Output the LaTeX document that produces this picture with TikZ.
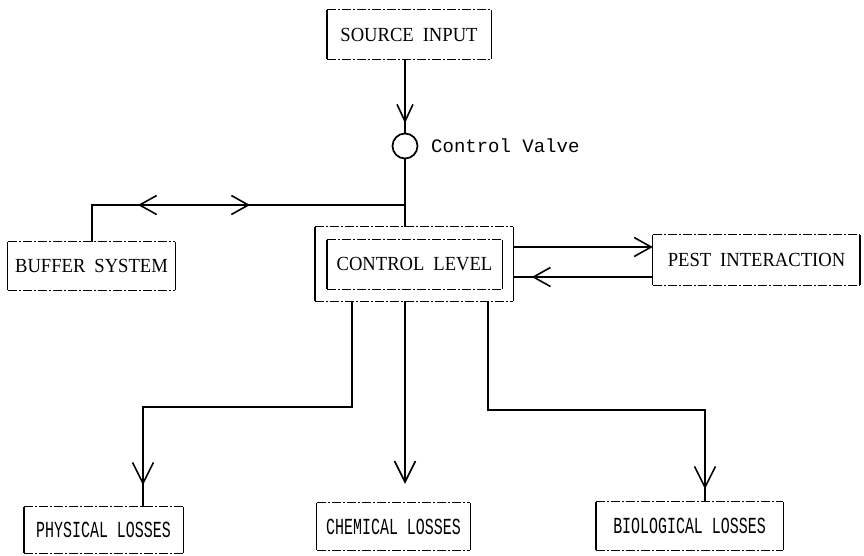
\documentclass[tikz,border=0pt]{standalone}
\usepackage{fontspec}
\setmainfont{Liberation Serif}[FakeStretch=0.93]
\newfontfamily\monolab[FakeStretch=0.65]{Liberation Mono}
\newfontfamily\valvefont{Liberation Mono}
\usetikzlibrary{arrows.meta,decorations.markings}
\tikzset{
  x=1pt,y=-1pt,
  vbarb/.tip={Straight Barb[length=21pt,width=21pt,line width=1.6pt]},
  sbarb/.tip={Straight Barb[length=17pt,width=16pt,line width=1.6pt]},
  hbarb/.tip={Straight Barb[length=17pt,width=19pt,line width=1.6pt]},
  lbl/.style={inner sep=0pt,font=\fontsize{20pt}{23pt}\selectfont},
  lossl/.style={inner sep=0pt,font=\monolab\fontsize{23pt}{26pt}\selectfont},
  conn/.style={line width=1.7pt,black},
  barbat/.style 2 args={postaction={decorate,decoration={markings,mark=at position #1 with {\arrow{#2}}}}},
  barbback/.style 2 args={postaction={decorate,decoration={markings,mark=at position #1 with {\arrowreversed{#2}}}}},
  dashline/.style={line width=1pt,dash pattern=on 9pt off 2pt on 2pt off 2pt},
  sideline/.style={line width=#1},
}
\newcommand{\tbox}[3]{%
  \draw[dashline] (#1.north west) -- (#1.north east) (#1.south west) -- (#1.south east);
  \draw[sideline=#2] (#1.north west) -- (#1.south west);
  \draw[sideline=#3] (#1.north east) -- (#1.south east);}
\newcommand{\wsp}{\hspace{9pt}}
\begin{document}
\begin{tikzpicture}
\fill[white] (0,0) rectangle (864,555);
\useasboundingbox (0,0) rectangle (864,555);
% boxes
\node[lbl,minimum width=164pt,minimum height=49pt] (src) at (409,34.5) {SOURCE\wsp INPUT};
\node[lbl,minimum width=167pt,minimum height=48pt] (buf) at (91.5,266) {BUFFER\wsp SYSTEM};
\node[inner sep=0pt,minimum width=198pt,minimum height=74pt] (cl) at (414,264) {};
\node[lbl,minimum width=175pt,minimum height=49pt] (cli) at (414.5,264.5) {CONTROL\wsp LEVEL};
\node[lbl,minimum width=207pt,minimum height=50pt] (pest) at (756.5,260) {PEST\wsp INTERACTION};
\node[lossl,minimum width=159pt,minimum height=46pt] (phys) at (103.5,530) {PHYSICAL LOSSES};
\node[lossl,minimum width=153pt,minimum height=47pt] (chem) at (393.5,526.5) {CHEMICAL LOSSES};
\node[lossl,minimum width=187pt,minimum height=48pt] (bio) at (689.5,526) {BIOLOGICAL LOSSES};
\tbox{src}{2.4pt}{1.4pt}
\tbox{buf}{1.3pt}{1.3pt}
\tbox{cl}{2.4pt}{1.4pt}
\tbox{cli}{1.6pt}{1.4pt}
\tbox{pest}{1.3pt}{2pt}
\tbox{phys}{2.4pt}{1.3pt}
\tbox{chem}{1.3pt}{1.3pt}
\tbox{bio}{1.6pt}{1.3pt}
% valve
\node[draw,circle,line width=1.7pt,minimum size=25pt,inner sep=0pt] (valve) at (405,146) {};
\node[anchor=west,inner sep=0pt,font=\valvefont\fontsize{19pt}{22pt}\selectfont] (vl) at (431,146) {Control Valve};
\coordinate (j) at (valve.south |- 0,205);
% connectors
\draw[conn,barbat={64pt}{sbarb}] (src.south -| valve.north) -- (valve.north);
\draw[conn] (valve.south) -- (valve.south |- cl.north);
\draw[conn,barbat={267pt}{hbarb},barbback={155pt}{hbarb}] (j) -| ([xshift=0.5pt]buf.north);
\draw[conn,-{hbarb}] ([yshift=17pt]cl.east) -- ([yshift=17pt]cl.east -| pest.west);
\draw[conn,barbat={121pt}{hbarb}] ([yshift=-13pt]cl.east -| pest.west) -- ([yshift=-13pt]cl.east);
\draw[conn,barbat={393pt}{vbarb}] ([xshift=-62pt]cl.south) -- ++(0,106) -| ([xshift=39.5pt]phys.north);
\coordinate (ct) at ([yshift=19pt]chem.north -| valve.south);
\draw[conn,-{vbarb}] (cl.south -| valve.south) -- (ct);
\draw[conn,barbat={405pt}{vbarb}] ([xshift=74pt]cl.south) -- ++(0,109) -| ([xshift=15.5pt]bio.north);
\end{tikzpicture}
\end{document}
